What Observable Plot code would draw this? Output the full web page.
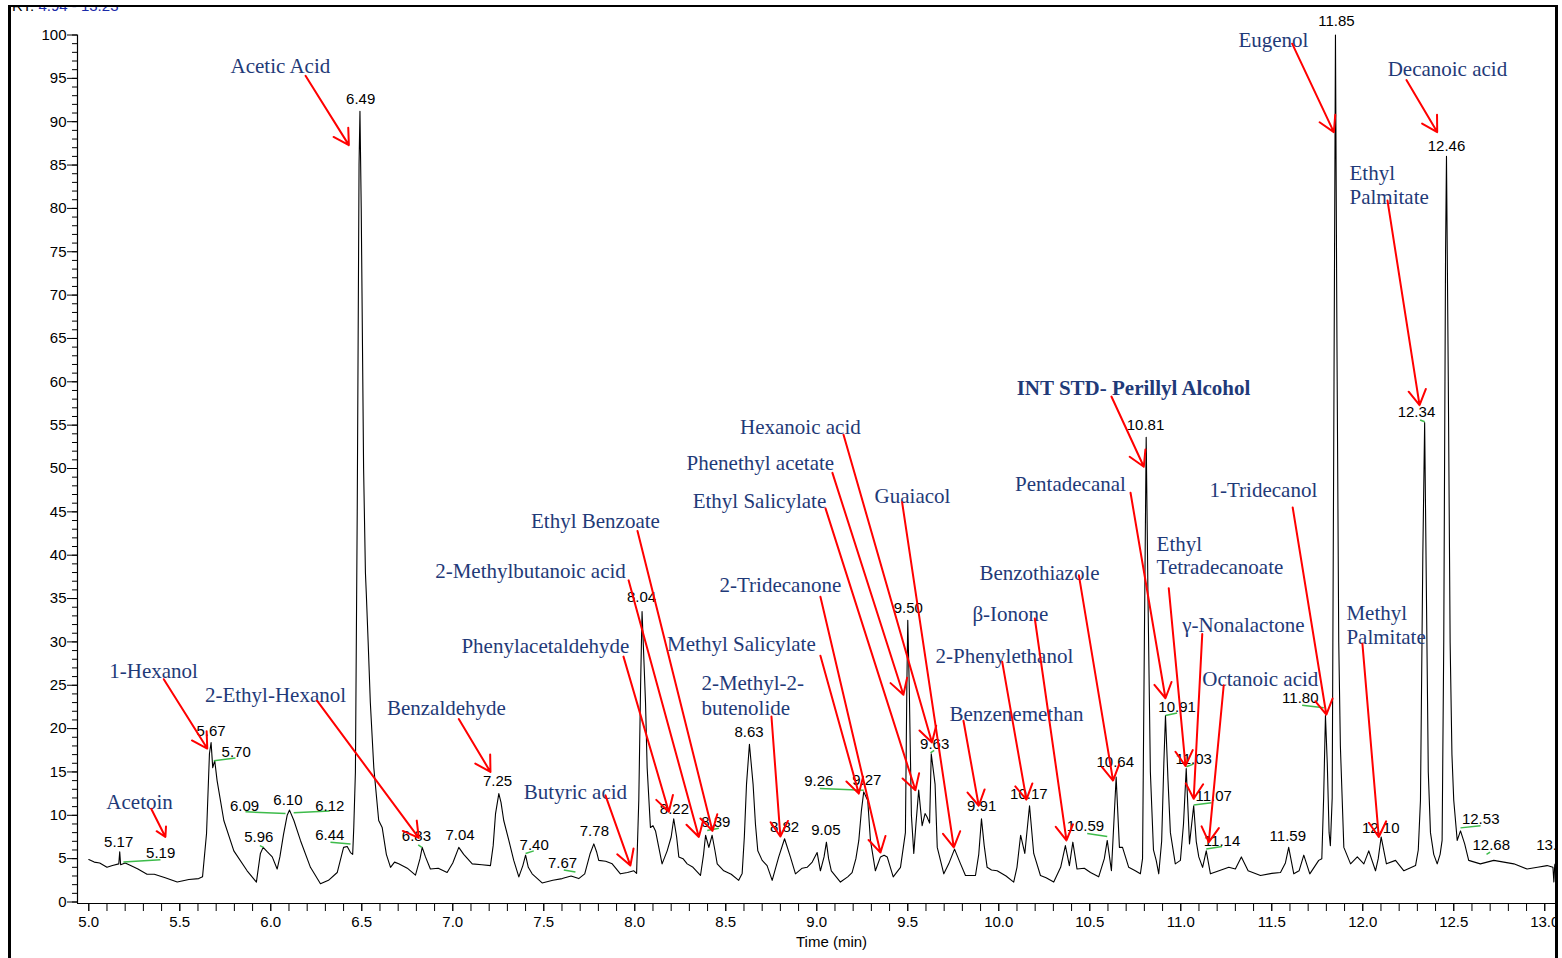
<!DOCTYPE html>
<html>
<head>
<meta charset="utf-8">
<script src="https://cdn.jsdelivr.net/npm/d3@7"></script>
<script src="https://cdn.jsdelivr.net/npm/@observablehq/plot@0.6"></script>
<style>
  body { margin: 0; background: #fff; }
  #wrap { position: relative; width: 1562px; height: 958px; overflow: hidden; background: #fff; }
  #frame { position: absolute; left: 8px; top: 5px; width: 1544px; height: 1000px;
           border-left: 3px solid #000; border-top: 2px solid #000; border-right: 3px solid #000; overflow: hidden; }
  #rt { position: absolute; left: 1px; top: -9px; font: 15px "Liberation Sans", Arial, sans-serif; line-height: 15px; color: #000; white-space: nowrap; }
  #rt span { color: #1a2aa8; }
  #chart { position: absolute; left: -11px; top: -7px; width: 1562px; height: 958px; }
  #chart svg { max-width: none !important; width: 1562px; height: 958px; }
</style>
</head>
<body>
<div id="wrap">
  <div id="frame">
    <div id="rt">RT: <span>4.94 - 13.23</span></div>
    <div id="chart"></div>
  </div>
</div>
<script>
// ---- Chromatogram trace: [time (min), relative abundance] ----
const trace = [
[5.000,4.9],[5.03,4.6],[5.06,4.5],[5.10,4.0],[5.13,4.2],[5.165,4.4],[5.170,5.8],[5.175,4.3],[5.20,4.5],[5.23,4.2],
[5.27,3.8],[5.32,3.2],[5.36,3.2],[5.42,2.8],[5.486,2.3],[5.55,2.6],[5.604,2.7],[5.625,2.9],[5.647,7.9],[5.663,17.1],
[5.672,18.4],[5.681,15.5],[5.692,16.3],[5.705,14.0],[5.742,9.4],[5.797,5.9],[5.87,3.6],[5.921,2.3],[5.943,5.6],[5.958,6.3],
[5.98,5.8],[6.008,5.2],[6.035,3.8],[6.05,5.2],[6.07,7.8],[6.09,10.0],[6.103,10.6],[6.127,9.4],[6.163,7.1],[6.218,4.0],
[6.273,2.1],[6.317,2.5],[6.365,3.4],[6.40,6.3],[6.42,6.4],[6.438,5.7],[6.45,5.5],[6.456,8.6],[6.465,15],[6.475,45],
[6.485,85],[6.490,91.2],[6.497,80],[6.51,50],[6.52,38],[6.525,35.5],[6.535,30],[6.547,23],[6.566,15.5],[6.593,9.4],
[6.612,8.6],[6.635,5.5],[6.658,4.0],[6.68,4.6],[6.703,4.4],[6.75,3.9],[6.795,3.1],[6.82,5.0],[6.832,6.3],[6.85,5.2],
[6.877,3.8],[6.92,3.9],[6.969,3.4],[7.00,4.5],[7.033,6.3],[7.06,5.5],[7.107,4.4],[7.16,4.3],[7.207,4.2],[7.222,6.5],
[7.235,10.2],[7.253,12.5],[7.265,11.5],[7.28,9.4],[7.308,7.1],[7.335,4.8],[7.363,2.9],[7.385,4.2],[7.40,5.4],[7.415,4.0],
[7.436,3.25],[7.491,2.2],[7.55,2.5],[7.601,2.7],[7.65,3.0],[7.692,2.7],[7.725,3.25],[7.755,5.6],[7.775,6.7],[7.79,5.8],
[7.802,4.8],[7.84,4.7],[7.876,4.4],[7.921,3.25],[7.96,3.4],[7.995,3.6],[8.01,3.3],[8.022,11.7],[8.032,25],[8.040,33.5],
[8.05,28],[8.059,23],[8.068,15.5],[8.086,8.6],[8.10,8.8],[8.114,8.2],[8.13,6.5],[8.15,4.4],[8.178,5.9],[8.20,7.5],
[8.214,9.6],[8.23,7.5],[8.242,5.2],[8.265,5.0],[8.288,4.4],[8.32,4.0],[8.361,3.06],[8.378,5.5],[8.389,7.7],[8.407,6.3],
[8.425,7.7],[8.44,6.0],[8.453,4.4],[8.489,3.6],[8.53,3.2],[8.571,2.5],[8.59,3.3],[8.602,7.5],[8.614,13.6],[8.63,18.2],
[8.65,13.6],[8.663,9],[8.676,5.9],[8.70,4.8],[8.727,4.2],[8.755,2.5],[8.791,5.2],[8.823,7.3],[8.855,5.2],[8.883,3.25],
[8.92,3.9],[8.947,4.0],[8.975,4.6],[9.002,5.7],[9.02,3.6],[9.04,5.2],[9.053,6.9],[9.065,5.0],[9.08,3.6],[9.13,2.3],
[9.17,2.9],[9.194,3.4],[9.215,5.0],[9.231,7.1],[9.245,10.5],[9.258,12.7],[9.28,11.7],[9.295,7.1],[9.322,3.6],[9.35,5.2],
[9.37,5.4],[9.387,5.2],[9.42,2.9],[9.46,4.0],[9.487,8.0],[9.495,25],[9.500,32.5],[9.508,25],[9.52,10],[9.533,5.6],
[9.545,9],[9.56,12.9],[9.579,8.8],[9.595,10.2],[9.606,9.8],[9.62,9.1],[9.629,17.1],[9.65,13.6],[9.662,6.3],[9.698,3.25],
[9.725,4.4],[9.757,6.1],[9.79,4.4],[9.817,3.06],[9.872,3.06],[9.89,5.5],[9.905,9.6],[9.92,6.5],[9.936,4.0],[9.96,3.7],
[9.991,3.6],[10.04,3.0],[10.082,2.3],[10.10,4.0],[10.12,7.7],[10.143,5.6],[10.169,11.1],[10.192,5.6],[10.229,3.06],[10.26,2.8],
[10.302,2.3],[10.34,4.0],[10.366,6.5],[10.388,4.2],[10.407,6.9],[10.43,3.8],[10.47,3.9],[10.504,3.4],[10.549,2.9],[10.58,5],
[10.596,7.1],[10.619,3.6],[10.632,9],[10.645,14.4],[10.663,6.3],[10.68,6.3],[10.714,4.0],[10.75,3.6],[10.778,3.25],[10.79,5],
[10.80,30],[10.81,53.6],[10.82,35],[10.833,15],[10.85,6],[10.865,4.8],[10.879,3.25],[10.895,7],[10.907,16],[10.916,21.5],
[10.93,14],[10.943,8.0],[10.97,4.4],[10.998,4.8],[11.015,9],[11.03,15.4],[11.048,6.7],[11.06,9],[11.071,11.1],[11.085,7],
[11.099,5.2],[11.12,4.0],[11.14,5.9],[11.163,3.25],[11.21,3.6],[11.264,4.0],[11.30,3.8],[11.333,5.2],[11.37,3.6],[11.438,3.06],
[11.50,3.3],[11.548,3.4],[11.575,4.5],[11.593,6.3],[11.621,3.25],[11.65,3.6],[11.676,5.4],[11.709,3.25],[11.758,4.8],[11.775,5.0],
[11.785,12],[11.795,21.5],[11.805,16],[11.815,8],[11.822,6.5],[11.832,12],[11.842,60],[11.850,100],[11.858,65],[11.868,30],
[11.877,18],[11.896,6.3],[11.933,4.4],[11.97,5.2],[12.006,4.4],[12.033,5.9],[12.07,3.6],[12.085,5],[12.101,7.5],[12.13,4.4],
[12.18,4.8],[12.226,3.6],[12.29,4.2],[12.305,6],[12.317,11.7],[12.33,40],[12.340,55.3],[12.35,35],[12.36,15],[12.372,8.0],
[12.39,5.5],[12.409,4.4],[12.425,5.5],[12.436,7.1],[12.445,30],[12.455,75],[12.460,86],[12.47,60],[12.48,30],[12.49,17],
[12.50,11.7],[12.519,7.1],[12.537,8.2],[12.56,6.7],[12.582,4.8],[12.646,4.4],[12.72,4.8],[12.83,4.4],[12.903,3.8],[12.96,4.0],
[13.013,4.2],[13.045,4.0],[13.05,2.3],[13.055,4.3],[13.068,4.8],[13.08,5.0]
];

// ---- Retention-time labels: [time, abundance, text] ----
const peakLabels = [
[5.164,6.9,"5.17"],[5.395,5.6,"5.19"],[5.672,19.7,"5.67"],[5.81,17.3,"5.70"],[5.934,7.5,"5.96"],
[5.856,11.1,"6.09"],[6.094,11.8,"6.10"],[6.324,11.1,"6.12"],[6.324,7.7,"6.44"],[6.494,92.6,"6.49"],
[6.80,7.55,"6.83"],[7.04,7.7,"7.04"],[7.246,13.9,"7.25"],[7.447,6.6,"7.40"],[7.603,4.5,"7.67"],
[7.778,8.2,"7.78"],[8.037,35.1,"8.04"],[8.218,10.75,"8.22"],[8.445,9.2,"8.39"],[8.628,19.6,"8.63"],
[8.823,8.6,"8.82"],[9.05,8.3,"9.05"],[9.011,13.9,"9.26"],[9.275,14.1,"9.27"],[9.503,33.9,"9.50"],
[9.648,18.2,"9.63"],[9.906,11.0,"9.91"],[10.165,12.4,"10.17"],[10.476,8.7,"10.59"],[10.64,16.1,"10.64"],
[10.806,55.0,"10.81"],[10.98,22.5,"10.91"],[11.071,16.5,"11.03"],[11.181,12.2,"11.07"],[11.227,7.0,"11.14"],
[11.588,7.55,"11.59"],[11.657,23.5,"11.80"],[11.855,101.6,"11.85"],[12.099,8.55,"12.10"],[12.295,56.5,"12.34"],
[12.46,87.2,"12.46"],[12.648,9.6,"12.53"],[12.706,6.6,"12.68"],[13.056,6.6,"13.06"]
];

// ---- Integration baselines: [t1, v1, t2, v2] ----
const baselines = [
[5.19,4.6,5.394,4.87],[5.687,16.3,5.806,16.6],[5.861,10.4,6.081,10.2],[6.126,10.3,6.324,10.5],
[6.328,6.9,6.438,6.7],[5.94,6.5,5.96,6.3],[6.81,6.6,6.83,6.3],[7.40,5.6,7.445,5.9],[7.61,3.7,7.674,3.45],
[8.398,8.25,8.462,8.5],[9.016,13.1,9.258,12.9],[9.625,17.2,9.645,17.5],[10.486,7.9,10.596,7.55],
[10.916,21.5,10.98,21.8],[11.03,15.6,11.07,15.9],[11.071,11.2,11.169,11.45],[11.14,6.1,11.227,6.4],
[11.667,22.7,11.786,22.4],[12.537,8.55,12.647,8.8],[12.68,5.5,12.70,5.75],[12.315,55.6,12.34,55.4]
];

// ---- Compound arrows: [labelT, labelV, peakT, peakV] ----
const arrows = [
[6.191,95.3,6.429,87.3],[5.412,25.7,5.651,17.7],[6.255,23.2,6.813,7.4],[5.343,10.75,5.421,7.5],
[7.033,21.1,7.207,15.0],[7.839,12.3,7.976,4.2],[7.938,28.3,8.187,10.4],[7.966,37.1,8.352,7.5],
[8.015,42.8,8.427,8.2],[9.02,28.4,9.231,12.5],[8.751,21.4,8.80,7.55],[9.02,35.2,9.35,5.7],
[9.147,53.9,9.633,18.4],[9.086,49.5,9.476,23.9],[9.048,45.4,9.542,12.9],[9.469,46.1,9.753,6.3],
[10.619,58.3,10.797,50.2],[10.724,47.2,10.916,23.5],[10.44,37.7,10.628,14.0],[10.198,32.7,10.372,7.1],
[10.019,27.7,10.152,11.8],[9.806,20.9,9.89,11.1],[10.934,36.2,11.026,15.7],[11.118,30.9,11.071,11.9],
[11.236,25.0,11.154,6.9],[11.615,45.5,11.80,21.6],[11.612,99.0,11.841,88.8],[12.24,94.8,12.409,88.8],
[12.136,80.9,12.312,57.3],[11.998,29.8,12.088,7.5]
];

// ---- Compound names (centred): [t, v, text] ----
const compoundNames = [
[6.053,96.4,"Acetic Acid"],[5.356,26.6,"1-Hexanol"],[6.026,23.8,"2-Ethyl-Hexanol"],[5.279,11.5,"Acetoin"],
[6.965,22.3,"Benzaldehyde"],[7.674,12.7,"Butyric acid"],[7.509,29.5,"Phenylacetaldehyde"],
[7.427,38.1,"2-Methylbutanoic acid"],[7.784,43.9,"Ethyl Benzoate"],[8.586,29.7,"Methyl Salicylate"],
[8.80,36.5,"2-Tridecanone"],[8.91,54.7,"Hexanoic acid"],[8.69,50.6,"Phenethyl acetate"],
[8.685,46.2,"Ethyl Salicylate"],[9.526,46.8,"Guaiacol"],[10.394,48.2,"Pentadecanal"],
[10.224,37.9,"Benzothiazole"],[10.064,33.2,"β-Ionone"],[10.031,28.3,"2-Phenylethanol"],
[10.097,21.7,"Benzenemethan"],[11.344,31.9,"γ-Nonalactone"],[11.437,25.7,"Octanoic acid"],
[11.454,47.5,"1-Tridecanol"],[11.509,99.4,"Eugenol"],[12.465,96.0,"Decanoic acid"]
];
// ---- Compound names (left aligned, two-line) ----
const compoundNamesLeft = [
[8.366,25.2,"2-Methyl-2-"],[8.366,22.3,"butenolide"],[10.867,41.3,"Ethyl"],[10.867,38.6,"Tetradecanoate"],
[11.927,84.1,"Ethyl"],[11.927,81.3,"Palmitate"],[11.91,33.3,"Methyl"],[11.91,30.5,"Palmitate"]
];
const internalStandard = [[10.74,59.3,"INT STD- Perillyl Alcohol"]];

const xMinor = d3.range(50, 131).map(d => d / 10);
const xMajor = d3.range(10, 27).map(d => d / 2);
const yMinor = d3.range(0, 101, 1);
const yMajor = d3.range(0, 101, 5);

const navy = "#1f3a78";
const serif = "'Liberation Serif', 'Times New Roman', serif";

const chart = Plot.plot({
  width: 1562, height: 958,
  marginLeft: 77, marginRight: 5, marginTop: 34.5, marginBottom: 55,
  x: {domain: [4.938, 13.07], axis: null},
  y: {domain: [-0.173, 100], axis: null},
  style: {fontFamily: "'Liberation Sans', Arial, sans-serif", background: "transparent", overflow: "visible"},
  marks: [
    Plot.axisY(yMinor, {anchor: "left", tickSize: 5, text: null, label: null, strokeWidth: 1}),
    Plot.axisY(yMajor, {anchor: "left", tickSize: 10, tickPadding: 1, fontSize: 15, label: null, strokeWidth: 1, fill: "#000"}),
    Plot.axisX(xMinor, {anchor: "bottom", tickSize: 8, text: null, label: null, strokeWidth: 1}),
    Plot.axisX(xMajor, {anchor: "bottom", tickSize: 8, tickPadding: 5, fontSize: 15, tickFormat: d => d.toFixed(1), label: null, fill: "#000"}),
    Plot.ruleX([4.938], {y1: -0.173, y2: 100, stroke: "#000", strokeWidth: 1.2}),
    Plot.ruleY([-0.173], {stroke: "#000", strokeWidth: 1.2}),
    Plot.text(["Time (min)"], {frameAnchor: "bottom", dx: 14, dy: 43, fontSize: 15, fill: "#000"}),
    Plot.line(trace, {x: d => d[0], y: d => d[1], stroke: "#000", strokeWidth: 1.1, curve: "linear"}),
    Plot.link(baselines, {x1: d => d[0], y1: d => d[1], x2: d => d[2], y2: d => d[3], stroke: "#3dbb4a", strokeWidth: 1.5}),
    Plot.text(peakLabels, {x: d => d[0], y: d => d[1], text: d => d[2], fontSize: 15, fill: "#000"}),
    Plot.text(compoundNames, {x: d => d[0], y: d => d[1], text: d => d[2], fontSize: 21, fontFamily: serif, fill: navy}),
    Plot.text(compoundNamesLeft, {x: d => d[0], y: d => d[1], text: d => d[2], fontSize: 21, fontFamily: serif, fill: navy, textAnchor: "start"}),
    Plot.text(internalStandard, {x: d => d[0], y: d => d[1], text: d => d[2], fontSize: 21, fontFamily: serif, fontWeight: "bold", fill: navy}),
    Plot.arrow(arrows, {x1: d => d[0], y1: d => d[1], x2: d => d[2], y2: d => d[3], stroke: "#ff0000", strokeWidth: 2, headLength: 13, headAngle: 60, bend: 0})
  ]
});
document.getElementById("chart").appendChild(chart);
</script>
</body>
</html>
